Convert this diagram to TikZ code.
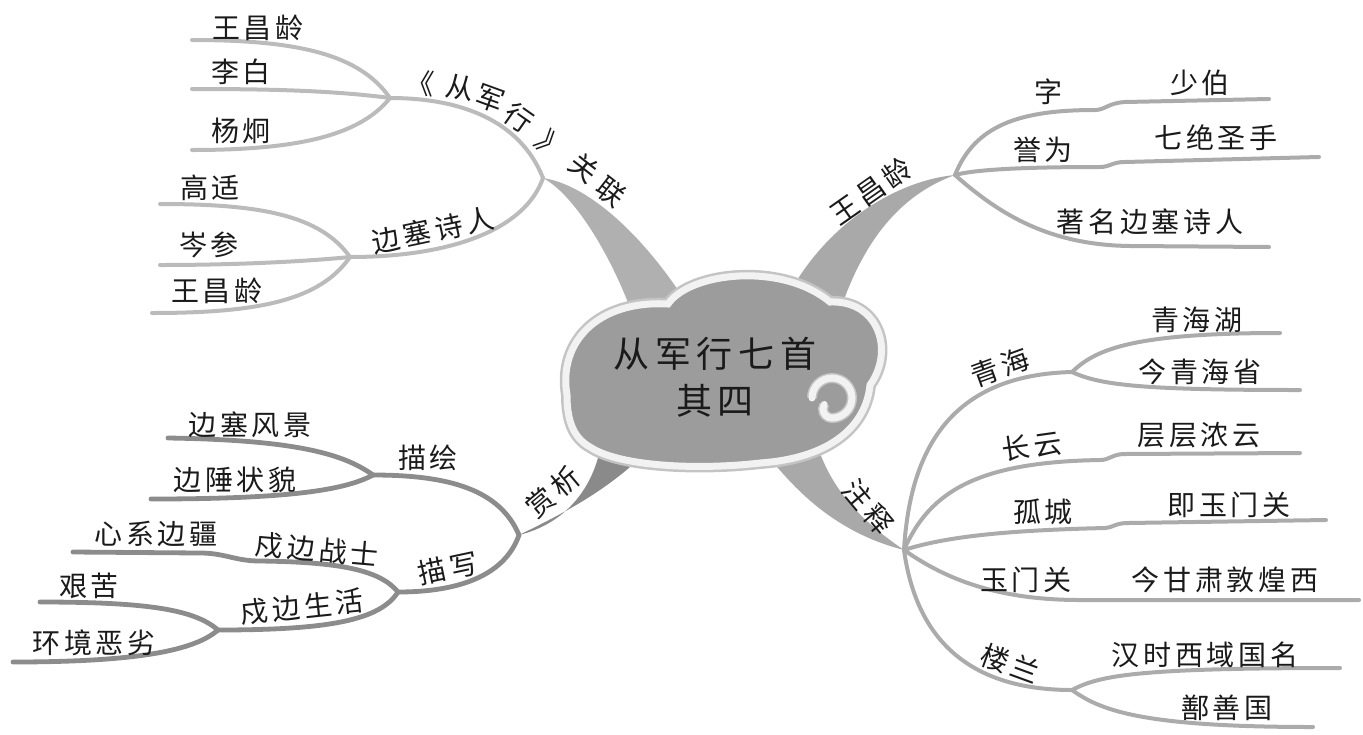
\documentclass[tikz,border=0pt]{standalone}
\usepackage{fontspec}
\newfontfamily\cjk[LetterSpace=14]{Noto Sans CJK SC}
\newfontfamily\cjkc[LetterSpace=16]{Noto Sans CJK SC}
\definecolor{tlc}{HTML}{BBBBBB}
\definecolor{trc}{HTML}{ABABAB}
\definecolor{blc}{HTML}{8C8C8C}
\definecolor{brc}{HTML}{ABABAB}
\definecolor{btl}{HTML}{B0B0B0}
\definecolor{btr}{HTML}{A9A9A9}
\definecolor{bbl}{HTML}{8A8A8A}
\definecolor{bbr}{HTML}{A9A9A9}
\definecolor{cloudfill}{HTML}{9C9C9C}
\definecolor{cloudrim}{HTML}{F2F2F2}
\definecolor{cloudshade}{HTML}{C4C4C4}
\definecolor{inkc}{HTML}{1A1A1A}
\begin{document}
\begin{tikzpicture}[x=0.5pt,y=-0.5pt,
  lab/.style={font=\cjk\fontsize{14pt}{16pt}\selectfont, inner sep=0pt, text=inkc},
  cloudtxt/.style={font=\cjkc\fontsize{18pt}{23.5pt}\selectfont, inner sep=0pt, text=inkc, align=center},
  twigTL/.style={draw=tlc, line width=2pt, line cap=round},
  twigTR/.style={draw=trc, line width=2pt, line cap=round},
  twigBL/.style={draw=blc, line width=2.4pt, line cap=round},
  twigBR/.style={draw=brc, line width=2pt, line cap=round}]
\useasboundingbox (0,0) rectangle (1363,734);

% ---- junctions, hubs, free ends
\coordinate (J1) at (543,178);
\coordinate (H1) at (390,98);
\coordinate (H2) at (350,257);
\coordinate (e1a) at (192,40);
\coordinate (e1b) at (192,89);
\coordinate (e1c) at (192,150);
\coordinate (e2a) at (160,204);
\coordinate (e2b) at (160,265);
\coordinate (e2c) at (152,313);
\coordinate (J2) at (955,175);
\coordinate (e3a) at (1269,99);
\coordinate (e3b) at (1319,157);
\coordinate (e3c) at (1269,247);
\coordinate (J3) at (519,535);
\coordinate (H3) at (373,475);
\coordinate (H4) at (398,592);
\coordinate (H5) at (218,630);
\coordinate (e4a) at (168,438);
\coordinate (e4b) at (151,499);
\coordinate (e5) at (73,552);
\coordinate (e6a) at (40,602);
\coordinate (e6b) at (13,662);
\coordinate (J4) at (904,550);
\coordinate (H6) at (1072,372);
\coordinate (H7) at (1072,690);
\coordinate (e7a) at (1280,333);
\coordinate (e7b) at (1300,390);
\coordinate (e8) at (1300,453);
\coordinate (e9) at (1326,520);
\coordinate (e10) at (1359,600);
\coordinate (e11a) at (1340,668);
\coordinate (e11b) at (1313,727);

% ---- thick tapered branches
\fill[btl] (J1) .. controls (575,195) and (615,260) .. (638,330) -- (697,320) .. controls (650,240) and (590,185) .. (J1) -- cycle;
\fill[btr] (J2) .. controls (900,180) and (830,220) .. (790,292) -- (842,305) .. controls (865,240) and (900,195) .. (J2) -- cycle;
\fill[bbl] (J3) .. controls (560,515) and (610,490) .. (650,448) -- (600,450) .. controls (590,495) and (560,525) .. (J3) -- cycle;
\fill[bbr] (760,445) .. controls (800,500) and (845,535) .. (J4) -- (J4) .. controls (860,520) and (832,490) .. (817,445) -- cycle;

% ---- top-left twigs
\draw[twigTL] (J1) .. controls (520,120) and (460,98) .. (H1);
\draw[twigTL] (J1) .. controls (525,230) and (450,257) .. (H2);
\draw[twigTL] (H1) .. controls (360,55) and (300,40) .. (e1a);
\draw[twigTL] (H1) .. controls (330,90) and (260,89) .. (e1b);
\draw[twigTL] (H1) .. controls (360,135) and (300,150) .. (e1c);
\draw[twigTL] (H2) .. controls (320,215) and (260,204) .. (e2a);
\draw[twigTL] (H2) .. controls (300,262) and (230,265) .. (e2b);
\draw[twigTL] (H2) .. controls (320,300) and (260,313) .. (e2c);

% ---- top-right twigs
\draw[twigTR] (J2) .. controls (975,125) and (1020,110) .. (1095,110) .. controls (1105,110) and (1108,103) .. (1125,102) -- (e3a);
\draw[twigTR] (J2) .. controls (980,168) and (1050,167) .. (1100,167) .. controls (1110,167) and (1112,162) .. (1125,162) -- (e3b);
\draw[twigTR] (J2) .. controls (1000,215) and (1050,245) .. (1130,246) -- (e3c);

% ---- bottom-left twigs
\draw[twigBL] (J3) .. controls (500,490) and (450,475) .. (H3);
\draw[twigBL] (J3) .. controls (505,575) and (460,592) .. (H4);
\draw[twigBL] (H3) .. controls (345,455) and (300,440) .. (e4a);
\draw[twigBL] (H3) .. controls (345,490) and (290,499) .. (e4b);
\draw[twigBL] (H4) .. controls (380,570) and (340,562) .. (260,561) .. controls (235,561) and (225,553) .. (200,553) -- (e5);
\draw[twigBL] (H4) .. controls (380,620) and (330,630) .. (H5);
\draw[twigBL] (H5) .. controls (195,610) and (150,602) .. (e6a);
\draw[twigBL] (H5) .. controls (195,650) and (140,662) .. (e6b);

% ---- bottom-right twigs
\draw[twigBR] (J4) .. controls (910,450) and (950,375) .. (H6);
\draw[twigBR] (H6) .. controls (1095,350) and (1130,333) .. (e7a);
\draw[twigBR] (H6) .. controls (1100,385) and (1140,390) .. (e7b);
\draw[twigBR] (J4) .. controls (930,490) and (980,462) .. (1100,460) .. controls (1110,460) and (1112,454) .. (1125,454) -- (e8);
\draw[twigBR] (J4) .. controls (950,535) and (1020,530) .. (1105,528) .. controls (1112,528) and (1115,523) .. (1128,523) -- (e9);
\draw[twigBR] (J4) .. controls (940,575) and (990,600) .. (1080,600) -- (e10);
\draw[twigBR] (J4) .. controls (915,630) and (960,690) .. (H7);
\draw[twigBR] (H7) .. controls (1100,675) and (1140,668) .. (e11a);
\draw[twigBR] (H7) .. controls (1100,710) and (1140,727) .. (e11b);

% ---- cloud
\draw[fill=cloudfill, draw=cloudrim, line width=3.5pt, preaction={draw=cloudshade, line width=6pt}]
  (567,395) .. controls (558,342) and (598,300) .. (668,304)
  .. controls (690,272) and (782,262) .. (830,302)
  .. controls (878,300) and (895,350) .. (870,385)
  .. controls (866,425) and (832,458) .. (760,463)
  .. controls (700,470) and (620,467) .. (590,447)
  .. controls (572,437) and (567,418) .. cycle;
\draw[cloudrim, line width=3.5pt, line cap=round, preaction={draw=cloudshade, line width=5pt}]
  (812,398) arc[start angle=180, end angle=450, radius=20] arc[start angle=90, end angle=210, radius=9];
\node[cloudtxt] (title) at (715,377) {从军行七首\\其四};

% ---- top-left labels
\node[lab] (l1) at (258,28) {王昌龄};
\node[lab] (l2) at (241,72) {李白};
\node[lab] (l3) at (241,131) {杨炯};
\node[lab] (l4) at (210,188) {高适};
\node[lab] (l5) at (209,245) {岑参};
\node[lab] (l6) at (217,291) {王昌龄};
\node[lab, rotate=12] (l7) at (433,230) {边塞诗人};
\node[lab, rotate=-5] (c1) at (420,83) {《};
\node[lab, rotate=-10] (c2) at (460,88) {从};
\node[lab, rotate=-20] (c3) at (490,99) {军};
\node[lab, rotate=-35] (c4) at (519,118) {行};
\node[lab, rotate=-45] (c5) at (551,146) {》};
\node[lab, rotate=-38] (c6) at (584,168) {关};
\node[lab, rotate=-38] (c7) at (611,192) {联};

% ---- top-right labels
\node[lab, rotate=35] (r0) at (871,191) {王昌龄};
\node[lab] (r1) at (1048,92) {字};
\node[lab] (r2) at (1200,83) {少伯};
\node[lab] (r3) at (1043,150) {誉为};
\node[lab] (r4) at (1216,138) {七绝圣手};
\node[lab] (r5) at (1150,222) {著名边塞诗人};

% ---- bottom-left labels
\node[lab, rotate=40] (b0) at (553,492) {赏析};
\node[lab] (b1) at (428,458) {描绘};
\node[lab] (b2) at (250,425) {边塞风景};
\node[lab] (b3) at (235,480) {边陲状貌};
\node[lab, rotate=12] (b4) at (448,568) {描写};
\node[lab, rotate=-5] (b5) at (317,550) {戍边战士};
\node[lab] (b6) at (156,534) {心系边疆};
\node[lab, rotate=6] (b7) at (302,607) {戍边生活};
\node[lab] (b8) at (89,586) {艰苦};
\node[lab] (b9) at (94,643) {环境恶劣};

% ---- bottom-right labels
\node[lab, rotate=-50] (d0) at (868,507) {注释};
\node[lab, rotate=20] (d1) at (1000,367) {青海};
\node[lab] (d2) at (1197,320) {青海湖};
\node[lab] (d3) at (1200,372) {今青海省};
\node[lab, rotate=8] (d4) at (1032,446) {长云};
\node[lab] (d5) at (1199,435) {层层浓云};
\node[lab] (d6) at (1043,512) {孤城};
\node[lab] (d7) at (1229,505) {即玉门关};
\node[lab] (d8) at (1026,580) {玉门关};
\node[lab] (d9) at (1225,580) {今甘肃敦煌西};
\node[lab, rotate=-20] (d10) at (1010,664) {楼兰};
\node[lab] (d11) at (1205,655) {汉时西域国名};
\node[lab] (d12) at (1227,708) {鄯善国};
\end{tikzpicture}
\end{document}
